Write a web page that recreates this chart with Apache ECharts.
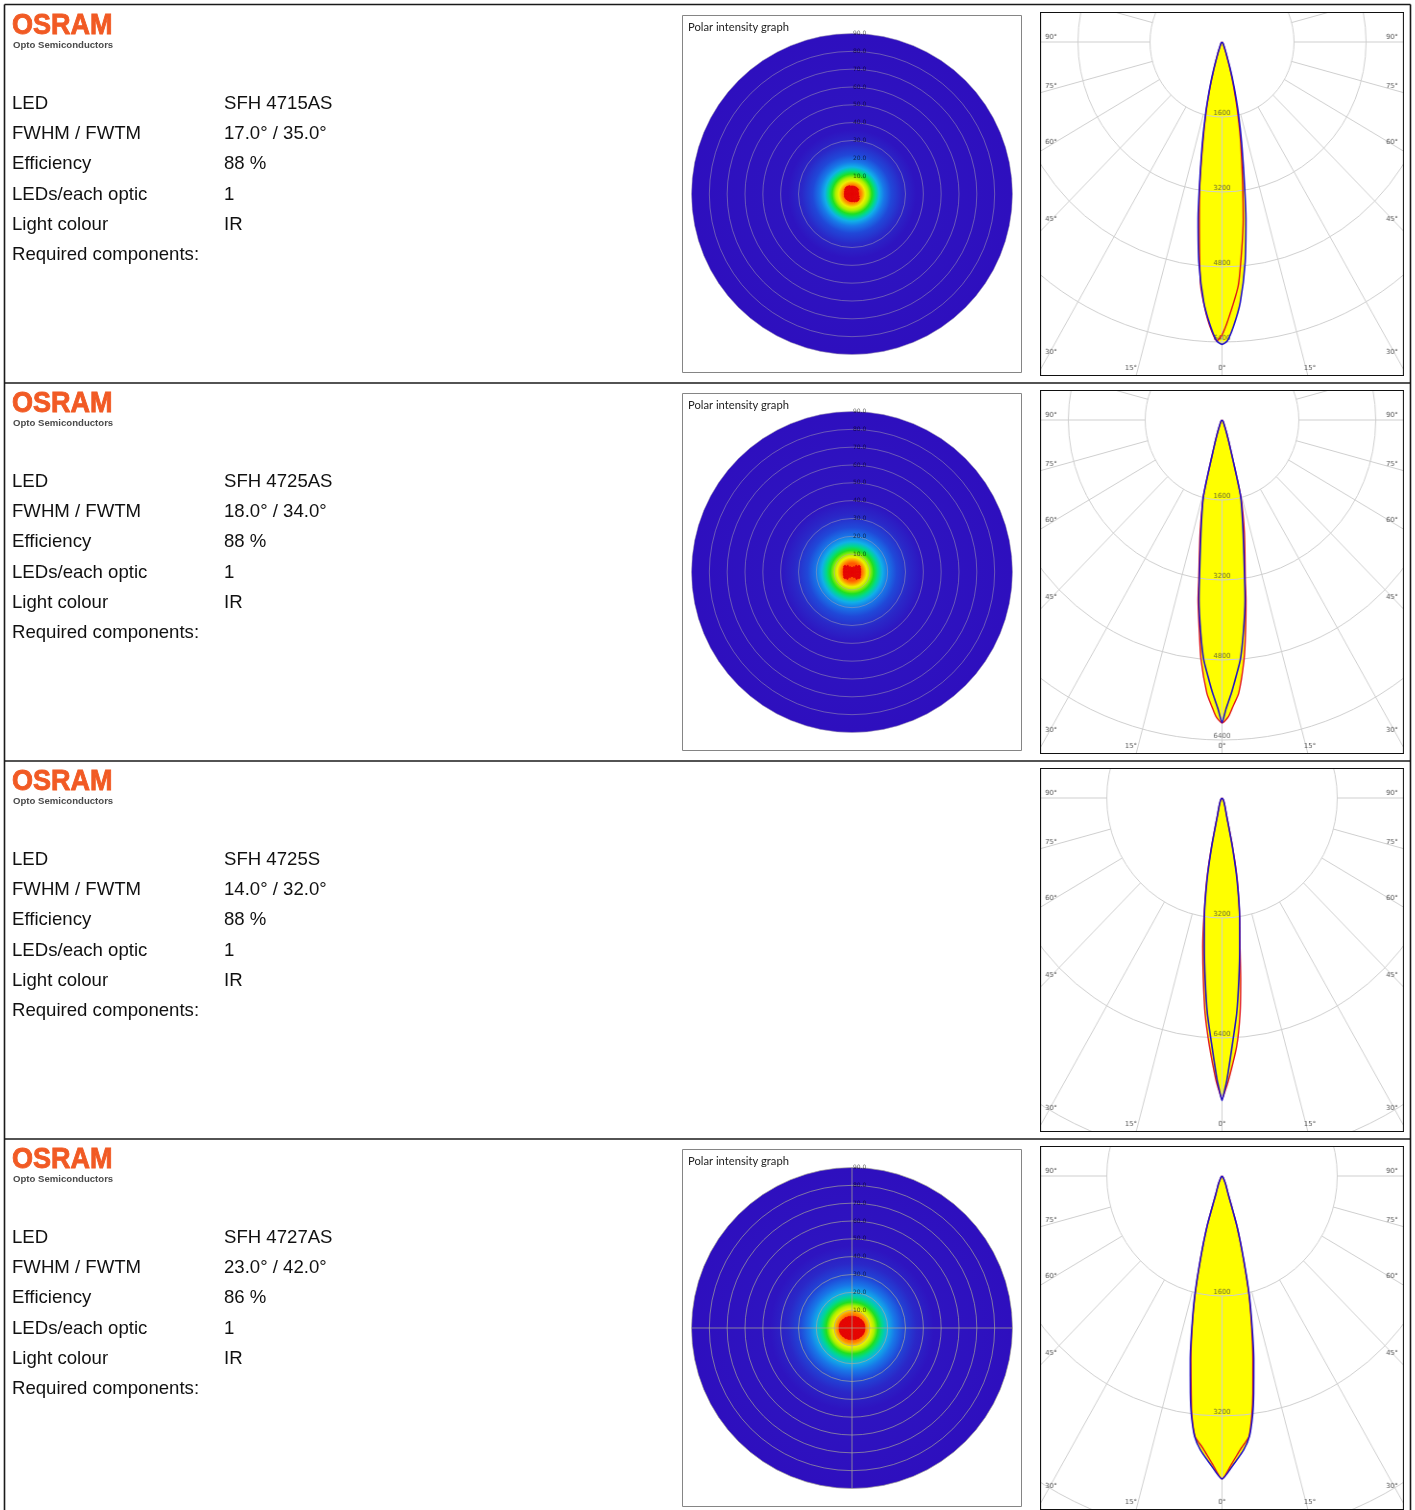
<!DOCTYPE html>
<html><head><meta charset="utf-8">
<style>html,body{margin:0;padding:0;background:#fff;width:1415px;height:1510px;overflow:hidden}
#main{position:absolute;left:0;top:0;width:1415px;height:1510px}
.cd{position:absolute;left:1040px;width:379px;height:364px;transform:scaleX(.9604);transform-origin:0 0}</style>
<script src="https://cdn.jsdelivr.net/npm/echarts@6/dist/echarts.min.js"></script>
</head><body><div id="main"></div>
<div class="cd" id="cd0" style="top:12px"></div>
<div class="cd" id="cd1" style="top:390px"></div>
<div class="cd" id="cd2" style="top:768px"></div>
<div class="cd" id="cd3" style="top:1146px"></div>
<script>
// ---- table text ----
const fieldNames=['LED','FWHM / FWTM','Efficiency','LEDs/each optic','Light colour','Required components:'];
const ledNames=['SFH 4715AS','SFH 4725AS','SFH 4725S','SFH 4727AS'];
const beamWidths=['17.0° / 35.0°','18.0° / 34.0°','14.0° / 32.0°','23.0° / 42.0°'];
const efficiencies=['88 %','88 %','88 %','86 %'];
const ledsPerOptic=['1','1','1','1'];
const lightColours=['IR','IR','IR','IR'];

// ---- candela curves: [angle in degrees (left of 0 positive), intensity] ----
const blue0=[[-90,0],[-60,8],[-45,20],[-31,60],[-26,110],[-21.3,243],[-17.6,610],[-15.6,1000],[-13.5,1547],[-11.44,2200],[-9.2,3145],[-8,3820],[-6.24,4730],[-4.16,5575],[-2.44,6063],[-1.04,6380],[0,6450],
 [1.04,6380],[2.44,6063],[4.16,5575],[6.24,4730],[8,3820],[9.2,3145],[11.44,2200],[13.5,1547],[15.6,1000],[17.6,610],[21.3,243],[26,110],[31,60],[45,20],[60,8],[90,0]];
const red0=[[-90,0],[-45,20],[-31,55],[-20.8,230],[-17.2,600],[-15.1,1000],[-13,1545],[-10.9,2200],[-8.5,3104],[-7.1,3810],[-5.5,4514],[-3.95,5217],[-1.35,5918],[0,6250],
 [1.04,6380],[3.1,5924],[5.2,5226],[7.6,3813],[9.15,3108],[11.2,2200],[13.3,1546],[15.4,1000],[17.4,600],[21.3,235],[31,55],[45,20],[90,0]];
const blue1=[[-90,0],[-60,8],[-45,20],[-31,60],[-20.2,282],[-16.85,624],[-14.25,1578],[-11,2306],[-8.4,3232],[-7.6,3630],[-5.93,4288],[-4.53,4814],[-3,5206],[-2.03,5470],[-.76,5800],[0,6053],
 [.76,5800],[2.03,5470],[3,5206],[4.53,4814],[5.93,4288],[7.6,3630],[8.4,3232],[11,2306],[14.25,1578],[16.85,624],[20.2,282],[31,60],[45,20],[60,8],[90,0]];
const red1=[[-90,0],[-45,20],[-31,60],[-20.2,282],[-16.85,624],[-14.35,1580],[-11.65,2310],[-8.63,3234],[-7.9,3632],[-6.55,4292],[-5.45,4820],[-3.64,5475],[-2.26,5738],[-1.3,5935],[0,6060],
 [1.2,5935],[2.1,5738],[3.3,5475],[5.2,4820],[6.3,4292],[7.9,3632],[8.63,3234],[11.4,2310],[14.25,1580],[16.85,624],[20.2,282],[31,60],[45,20],[90,0]];
const blue2=[[-90,0],[-45,25],[-31,90],[-20.8,220],[-15.9,424],[-12.5,1327],[-10.8,2223],[-8.7,3243],[-7.07,3993],[-5.5,4875],[-4.06,5755],[-2.4,6638],[-1.04,7520],[-.55,7787],[0,8072],
 [.55,7787],[1.04,7520],[2.4,6638],[4.06,5755],[5.5,4875],[7.07,3993],[8.7,3243],[10.8,2223],[12.5,1327],[15.9,424],[20.8,220],[31,90],[45,25],[90,0]];
const red2=[[-90,0],[-45,25],[-31,90],[-20.8,220],[-15.9,424],[-12.7,1327],[-11,2223],[-8.7,3243],[-7.2,3995],[-6.1,4880],[-5,5761],[-3.5,6643],[-1.41,7520],[-.7,7787],[0,8030],
 [.66,7787],[1.3,7520],[3,6640],[4.7,5760],[6.1,4880],[7.7,4000],[8.95,3243],[11,2223],[12.7,1327],[15.9,424],[20.8,220],[31,90],[45,25],[90,0]];
const blue3=[[-90,0],[-45,15],[-31,50],[-25,120],[-19.9,244],[-17.2,705],[-15.1,1157],[-13.4,1627],[-11.75,2049],[-10.2,2490],[-8.63,2928],[-7.6,3213],[-6.24,3495],[-4.7,3665],[-2.3,3856],[0,4040],
 [2.3,3856],[4.7,3665],[6.24,3495],[7.6,3213],[8.63,2928],[10.2,2490],[11.75,2049],[13.4,1627],[15.1,1157],[17.2,705],[19.9,244],[25,120],[31,50],[45,15],[90,0]];
const red3=[[-90,0],[-45,15],[-31,50],[-25,120],[-19.9,244],[-17.2,705],[-15,1157],[-13.3,1627],[-11.55,2049],[-9.9,2490],[-8.4,2928],[-7.4,3213],[-6.14,3495],[-4.16,3640],[-2,3840],[0,4040],
 [2,3840],[4.16,3640],[6.14,3495],[7.5,3213],[8.4,2928],[10,2490],[11.65,2049],[13.3,1627],[15.1,1157],[17.2,705],[19.9,244],[25,120],[31,50],[45,15],[90,0]];
const blueCurves=[blue0,blue1,blue2,blue3];
const redCurves=[red0,red1,red2,red3];
const cdRings=[[1600,3200,4800,6400],[1600,3200,4800,6400],[3200,6400,9600],[1600,3200,4800]];
const cdRingLabels=[[1600,3200,4800,6400],[1600,3200,4800,6400],[3200,6400],[1600,3200]];
const cdAxisMax=[8600,8000,10800,5400];
const spokeAngles=[-165,-150,-135,-120,-105,-90,-75,-60,-45,-30,-15,0,15,30,45,60,75,90,105,120,135,150,165,180];
const sideAngleLabels=['90°','75°','60°','45°','30°'];
const bottomAngleLabels=['15°','0°','15°'];

// ---- polar intensity graphs ----
const heatRows=[0,1,3];
const heatLabels=[10,20,30,40,50,60,70,80,90];
const heatRings=[[30,40,50,60,70,80,90],[10,20,30,40,50,60,70,80,90],[10,20,30,40,50,60,70,80,90]];
const heatCross=[[],[],[0,90,180,270]];
const core0=[4.5,4.5,4.5,4.5,3.7,3.7,3.7,4.3,5,5.2,4.7,4.3,4.3,4.3,4.3,4.5,4.5,4.3,4.3,4.5,5,5.2,4.9,4.5];
const core1=[2.6,3.2,4.5,5.6,5.2,4.9,4.9,5.2,5.6,4.9,3.4,2.6,2.6,3.4,4.9,5.6,5.2,4.9,4.9,5.2,5.6,4.5,3.2,2.6];
const core2=[6.6,6.7,6.9,7.1,7.3,7.3,7.3,7.3,7.1,6.9,6.7,6.6,6.6,6.7,6.9,7.1,7.3,7.3,7.3,7.3,7.1,6.9,6.7,6.6];
const coreValues=[core0,core1,core2];
const sectorNames=core0.map((v,i)=>'s'+i);
const heatProfile0=[[0,'#ff5000'],[4,'#ff5a00'],[5.5,'#ff9000'],[7.4,'#ecf000'],[9.2,'#a8f000'],[11.2,'#20e020'],[13.2,'#00d890'],[15.2,'#10b0e8'],[18,'#1878e8'],[22,'#2048d8'],[28,'#2a28c8'],[36,'#2e14c0'],[90,'#2e0fbe']];
const heatProfile1=[[0,'#ff5000'],[5,'#ff5a00'],[6.4,'#ff9000'],[8.3,'#ecf000'],[10,'#a8f000'],[12.2,'#20e020'],[14.5,'#00d890'],[17,'#10b0e8'],[20,'#1878e8'],[25,'#2048d8'],[32,'#2a28c8'],[40,'#2e14c0'],[90,'#2e0fbe']];
const heatProfile2=[[0,'#ff5000'],[6.5,'#ff5a00'],[8.5,'#ff9000'],[10.5,'#ecf000'],[12.5,'#a8f000'],[14.5,'#20e020'],[17,'#00d890'],[20,'#10b0e8'],[24,'#1878e8'],[29,'#2048d8'],[36,'#2a28c8'],[46,'#2e14c0'],[90,'#2e0fbe']];
const heatProfiles=[heatProfile0,heatProfile1,heatProfile2];

// ---- layout ----
const rowTop=[0,378,756,1134];
const textY=[103.6,133.8,164,194.6,224.6,254.6];
const sans='"Liberation Sans",Arial,sans-serif';
const hidden={axisLine:{show:false},axisTick:{show:false},axisLabel:{show:false},splitLine:{show:false}};

// main page chart
const g=[];
const line=(x1,y1,x2,y2)=>g.push({type:'line',z:20,shape:{x1,y1,x2,y2},style:{stroke:'#1a1a1a',lineWidth:1.6}});
line(4.5,4.5,1410.5,4.5);line(4.5,4.5,4.5,1510);line(1410.5,4.5,1410.5,1510);
[383,761,1139].forEach(y=>line(4.5,y,1410.5,y));
rowTop.forEach((dy,r)=>{
  g.push({type:'text',z:20,x:12,y:dy+11,scaleX:.9,style:{text:'OSRAM',font:'bold 30px '+sans,fill:'#f15a24',stroke:'#f15a24',lineWidth:.9,textVerticalAlign:'top'}});
  g.push({type:'text',z:20,x:13,y:dy+45.5,style:{text:'Opto Semiconductors',font:'bold 9.6px '+sans,fill:'#4a4a4a',textVerticalAlign:'middle'}});
  const vals=[ledNames[r],beamWidths[r],efficiencies[r],ledsPerOptic[r],lightColours[r],''];
  fieldNames.forEach((f,i)=>{
    g.push({type:'text',z:20,x:12,y:dy+textY[i],style:{text:f,font:'18.6px '+sans,fill:'#111',textVerticalAlign:'middle'}});
    if(vals[i])g.push({type:'text',z:20,x:224,y:dy+textY[i],style:{text:vals[i],font:'18.6px '+sans,fill:'#111',textVerticalAlign:'middle'}});
  });
});
const polar=[],angleAxis=[],radiusAxis=[],series=[];
heatRows.forEach((row,k)=>{
  const dy=rowTop[row],cy=194+dy,center=[852,cy],R=160.5;
  g.push({type:'rect',z:0,shape:{x:682.5,y:15.5+dy,width:339,height:357},style:{fill:'#fff',stroke:'#858585',lineWidth:1}});
  g.push({type:'text',z:20,x:688,y:27+dy,style:{text:'Polar intensity graph',font:'11.2px Lato,sans-serif',fill:'#222',textVerticalAlign:'middle'}});
  const base=polar.length;
  for(let i=0;i<3;i++){polar.push({center,radius:R});radiusAxis.push({polarIndex:base+i,type:'value',min:0,max:90,z:i===2?5:1,...hidden});}
  angleAxis.push({polarIndex:base,type:'category',data:['all'],startAngle:90,...hidden});
  angleAxis.push({polarIndex:base+1,type:'category',data:sectorNames,startAngle:90,...hidden});
  angleAxis.push({polarIndex:base+2,type:'value',min:0,max:360,interval:90,startAngle:90,z:5,...hidden,
    splitLine:{show:heatCross[k].length>0,lineStyle:{color:'rgba(175,175,150,.7)',width:1}}});
  radiusAxis[base+2].axisTick={show:false,customValues:heatRings[k]};
  radiusAxis[base+2].splitLine={show:true,lineStyle:{color:k===2?'rgba(170,170,150,.65)':'rgba(165,160,175,.5)',width:1}};
  series.push({type:'bar',coordinateSystem:'polar',polarIndex:base,angleAxisIndex:base,radiusAxisIndex:base,z:1,barWidth:'100%',silent:true,
    data:[90],itemStyle:{color:{type:'radial',x:.5,y:.5,r:.5,colorStops:heatProfiles[k].map(([d,c])=>({offset:d/90,color:c}))}}});
  series.push({type:'bar',coordinateSystem:'polar',polarIndex:base+1,angleAxisIndex:base+1,radiusAxisIndex:base+1,z:2,barCategoryGap:'0%',barWidth:'100%',silent:true,
    data:coreValues[k],itemStyle:{color:'#e40404',borderColor:'#e40404',borderWidth:.6}});
  series.push({type:'scatter',coordinateSystem:'polar',polarIndex:base+2,angleAxisIndex:base+2,radiusAxisIndex:base+2,z:6,symbolSize:0,silent:true,
    data:heatLabels.map(v=>[v,0]),
    label:{show:true,position:'right',distance:1,formatter:p=>p.value[0].toFixed(1),fontFamily:'"DejaVu Sans"',fontSize:6,color:'rgba(0,0,0,.8)'}});
});
echarts.init(document.getElementById('main')).setOption({animation:false,polar,angleAxis,radiusAxis,series,graphic:{elements:g}});

// candela charts (each canvas clips its own polar grid to the box; the plot is narrowed 4 % horizontally as in the source)
const sideY=[25,74,130,207,340];
blueCurves.forEach((blue,r)=>{
  const red=redCurves[r],M=cdAxisMax[r];
  const pxPerCd=[75/1600,80/1600,120/3200,120/1600][r];
  const toPt=c=>c.map(([a,v])=>[v,a]);
  const s=[];
  const common={type:'line',coordinateSystem:'polar',showSymbol:false,silent:true,clip:false};
  const lineCurve={...common,smooth:.2};
  s.push({...lineCurve,z:1,data:toPt(red),lineStyle:{width:0},areaStyle:{color:'#ffff00',opacity:1}});
  s.push({...lineCurve,z:1,data:toPt(blue),lineStyle:{width:0},areaStyle:{color:'#ffff00',opacity:1}});
  spokeAngles.forEach(a=>s.push({...common,z:3,data:[[cdRings[r][0],a],[M,a]],lineStyle:{color:'#cfcfcf',width:1}}));
  s.push({...lineCurve,z:5,data:toPt(red),lineStyle:{color:'#e0101a',width:1.4}});
  s.push({...lineCurve,z:6,data:toPt(blue),lineStyle:{color:'#1f10c8',width:1.6}});
  s.push({type:'scatter',coordinateSystem:'polar',symbolSize:0,silent:true,z:4,data:cdRingLabels[r].map(v=>[v,0]),
    label:{show:true,position:'top',distance:0,formatter:p=>String(p.value[0]),fontFamily:'"DejaVu Sans"',fontSize:7,color:'#444'}});
  const lab=[];
  sideAngleLabels.forEach((t,i)=>{[11.5,366.5].forEach(x=>lab.push({type:'text',z:9,x,y:sideY[i],style:{text:t,font:'7px "DejaVu Sans"',fill:'#555',textAlign:'center',textVerticalAlign:'middle'}}));});
  bottomAngleLabels.forEach((t,i)=>lab.push({type:'text',z:9,x:[94.7,189.5,281][i],y:356,style:{text:t,font:'7px "DejaVu Sans"',fill:'#555',textAlign:'center',textVerticalAlign:'middle'}}));
  lab.push({type:'rect',z:10,shape:{x:.5,y:.5,width:378,height:363},style:{fill:'none',stroke:'#111',lineWidth:1.2}});
  echarts.init(document.getElementById('cd'+r)).setOption({animation:false,
    polar:{center:[189.5,30],radius:M*pxPerCd},
    angleAxis:{type:'value',min:-180,max:180,startAngle:90,...hidden},
    radiusAxis:{type:'value',min:0,max:M,z:2,axisLine:{show:false},axisLabel:{show:false},
      axisTick:{show:false,customValues:cdRings[r]},splitLine:{show:true,lineStyle:{color:'#cfcfcf',width:1}}},
    series:s,graphic:{elements:lab}});
});
</script></body></html>
